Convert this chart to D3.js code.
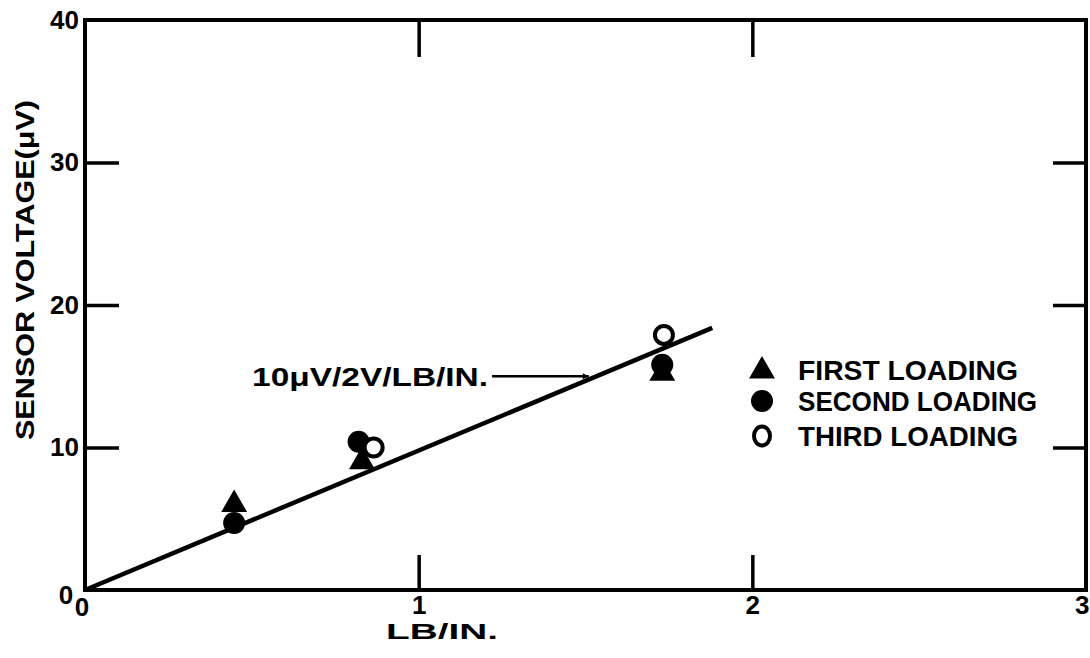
<!DOCTYPE html>
<html>
<head>
<meta charset="utf-8">
<script src="https://cdn.jsdelivr.net/npm/d3@7"></script>
<style>
  html, body { margin: 0; padding: 0; background: #fff; overflow: hidden; }
  svg { display: block; }
  text { font-family: "Liberation Sans", Arial, sans-serif; font-weight: bold; fill: #000; }
</style>
</head>
<body>
<svg id="chart" width="1090" height="658"></svg>
<script>
// ---- data ----
const xTicks = [1, 2, 3];
const yTicks = [10, 20, 30, 40];
const firstLoading  = [[0.447, 6.0], [0.83, 9.0], [1.73, 15.2]];
const secondLoading = [[0.447, 4.7], [0.82, 10.4], [1.73, 15.8]];
const thirdLoading  = [[0.865, 10.0], [1.735, 17.9]];
const fitLine = [[0, 0], [1.88, 18.4]];
const fitLabel = "10μV/2V/LB/IN.";
const fitArrowFrom = [1.22, 15.0];
const fitArrowTo = [1.51, 15.0];
const legendLabels = ["FIRST LOADING", "SECOND LOADING", "THIRD LOADING"];
const xTitle = "LB/IN.";
const yTitle = "SENSOR VOLTAGE(μV)";

// ---- layout ----
const svg = d3.select("#chart");
const L = 85, R = 1086, T = 20, B = 590;
const x = d3.scaleLinear().domain([0, 3]).range([L, R]);
const y = d3.scaleLinear().domain([0, 40]).range([B, T]);
const FS = 26;

// frame
svg.append("rect")
  .attr("x", L).attr("y", T).attr("width", R - L).attr("height", B - T)
  .attr("fill", "none").attr("stroke", "#000").attr("stroke-width", 4);

// axes
const styleAxis = g => {
  g.attr("font-size", FS);
  g.select(".domain").remove();
  g.selectAll(".tick line").attr("stroke", "#000").attr("stroke-width", 3.5);
  g.selectAll(".tick text").attr("font-size", FS).attr("font-family", "Liberation Sans, Arial, sans-serif").attr("font-weight", "bold");
};
svg.append("g").attr("transform", `translate(0,${B})`)
  .call(d3.axisBottom(x).tickValues(xTicks.slice(0, 2)).tickSize(-35).tickPadding(6).tickFormat(d3.format("d")))
  .call(styleAxis);
// label "3" at bottom right (no tick line), kept inside the page
svg.append("g").attr("transform", `translate(0,${B})`)
  .call(d3.axisBottom(x).tickValues([xTicks[2]]).tickSize(0).tickPadding(6).tickFormat(d3.format("d")))
  .call(styleAxis)
  .call(g => g.selectAll(".tick text").attr("text-anchor", "end").attr("x", 3));
svg.append("g").attr("transform", `translate(0,${T})`)
  .call(d3.axisTop(x).tickValues(xTicks.slice(0, 2)).tickSize(-37).tickFormat(""))
  .call(styleAxis);
svg.append("g").attr("transform", `translate(${L},0)`)
  .call(d3.axisLeft(y).tickValues(yTicks.slice(0, 3)).tickSize(-34).tickPadding(6).tickFormat(d3.format("d")))
  .call(styleAxis);
svg.append("g").attr("transform", `translate(${L},0)`)
  .call(d3.axisLeft(y).tickValues([yTicks[3]]).tickSize(0).tickPadding(6).tickFormat(d3.format("d")))
  .call(styleAxis);
svg.append("g").attr("transform", `translate(${R},0)`)
  .call(d3.axisRight(y).tickValues(yTicks.slice(0, 3)).tickSize(-33).tickFormat(""))
  .call(styleAxis);

// origin labels
svg.append("text").attr("x", x(0) - 19).attr("y", y(0) + 14).attr("font-size", FS).attr("text-anchor", "middle").text("0");
svg.append("text").attr("x", x(0) - 3).attr("y", y(0) + 26).attr("font-size", FS).attr("text-anchor", "middle").text("0");

// axis titles
svg.append("text").attr("x", x(1.07)).attr("y", 639).attr("font-size", 22).attr("text-anchor", "middle")
  .attr("textLength", 112).attr("lengthAdjust", "spacingAndGlyphs").style("font-weight", "600").text(xTitle);
svg.append("text").attr("transform", "translate(34,270) rotate(-90)").attr("font-size", 26)
  .attr("text-anchor", "middle").attr("textLength", 340).attr("lengthAdjust", "spacingAndGlyphs").text(yTitle);

// fit line
svg.append("path").datum(fitLine)
  .attr("d", d3.line().x(d => x(d[0])).y(d => y(d[1])))
  .attr("stroke", "#000").attr("stroke-width", 4.5).attr("fill", "none");

// annotation
svg.append("text").attr("x", x(fitArrowFrom[0]) - 240).attr("y", y(fitArrowFrom[1]) + 10)
  .attr("font-size", 26).attr("textLength", 236).attr("lengthAdjust", "spacingAndGlyphs").style("font-weight", "600")
  .text(fitLabel);
svg.append("defs").append("marker").attr("id", "arr").attr("viewBox", "0 0 10 10")
  .attr("refX", 10).attr("refY", 5).attr("markerWidth", 9).attr("markerHeight", 6)
  .attr("markerUnits", "userSpaceOnUse").attr("orient", "auto")
  .append("path").attr("d", "M0,0 L10,5 L0,10 z").attr("fill", "#000");
svg.append("line")
  .attr("x1", x(fitArrowFrom[0])).attr("y1", y(fitArrowFrom[1]))
  .attr("x2", x(fitArrowTo[0])).attr("y2", y(fitArrowTo[1]))
  .attr("stroke", "#000").attr("stroke-width", 2.5)
  .attr("marker-end", "url(#arr)");

// markers
const tri = d3.symbol().type(d3.symbolTriangle).size(290);
svg.append("g").selectAll("path").data(firstLoading).join("path")
  .attr("transform", d => `translate(${x(d[0])},${y(d[1])})`).attr("d", tri()).attr("fill", "#000");
svg.append("g").selectAll("circle").data(secondLoading).join("circle")
  .attr("cx", d => x(d[0])).attr("cy", d => y(d[1])).attr("r", 11).attr("fill", "#000");
svg.append("g").selectAll("circle").data(thirdLoading).join("circle")
  .attr("cx", d => x(d[0])).attr("cy", d => y(d[1])).attr("r", 9)
  .attr("fill", "#fff").attr("stroke", "#000").attr("stroke-width", 4);

// legend
const lg = svg.append("g");
const legendY = [370, 401, 436];
const legendW = [220, 239, 220];
lg.append("path").attr("transform", `translate(762,${legendY[0] + 1})`).attr("d", tri()).attr("fill", "#000");
lg.append("circle").attr("cx", 762).attr("cy", legendY[1]).attr("r", 11).attr("fill", "#000");
lg.append("ellipse").attr("cx", 762).attr("cy", legendY[2]).attr("rx", 8).attr("ry", 9.5)
  .attr("fill", "#fff").attr("stroke", "#000").attr("stroke-width", 4);
lg.selectAll("text").data(legendLabels).join("text")
  .attr("x", 798).attr("y", (d, i) => legendY[i] + 10).attr("font-size", 28)
  .attr("textLength", (d, i) => legendW[i]).attr("lengthAdjust", "spacingAndGlyphs")
  .text(d => d);
</script>
</body>
</html>
